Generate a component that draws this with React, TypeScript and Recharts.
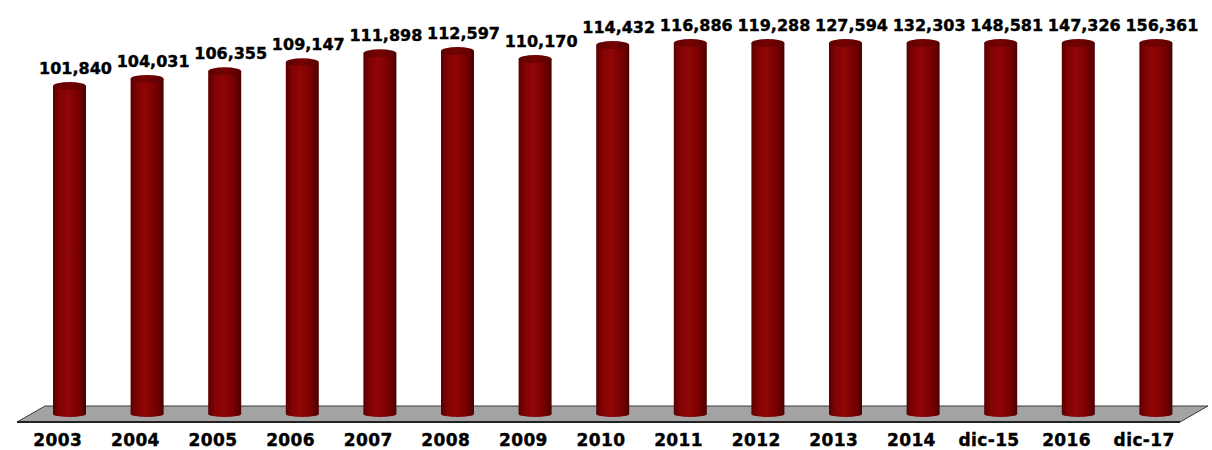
import { Bar, BarChart, LabelList, ReferenceArea, XAxis, YAxis } from "recharts";

const categories = [
  "2003", "2004", "2005", "2006", "2007", "2008", "2009", "2010",
  "2011", "2012", "2013", "2014", "dic-15", "2016", "dic-17",
];
const values = [
  101840, 104031, 106355, 109147, 111898, 112597, 110170, 114432,
  116886, 119288, 127594, 132303, 148581, 147326, 156361,
];

// the source chart stops its axis a little above 115,000 and cuts taller bars there
const AXIS_MAX = 115080;

const data = categories.map((name, i) => ({ name, value: values[i] }));

const FONT = "'DejaVu Sans', 'Liberation Sans', Arial, sans-serif";

function Cylinder(props: any) {
  const { x, y, width, height } = props;
  const rx = width / 2;
  const cx = x + rx;
  const base = y + height - 3;
  return (
    <g>
      <rect x={x} y={y} width={width} height={Math.max(base - y, 0)} fill="url(#cylBody)" />
      <ellipse cx={cx} cy={base} rx={rx} ry={3} fill="url(#cylBody)" />
      <ellipse cx={cx} cy={y} rx={rx} ry={4} fill="url(#cylCap)" />
    </g>
  );
}

function Floor(props: any) {
  const { x, width, y, height } = props;
  const zero = y + height;
  const left = x;
  const right = x + width;
  const pts = [
    [left + 14, zero - 11],
    [right + 13, zero - 11],
    [right - 15, zero + 5],
    [left - 14, zero + 5],
  ]
    .map((p) => p.join(","))
    .join(" ");
  return (
    <g>
      <polygon points={pts} fill="#a3a3a3" stroke="#3a3a3a" strokeWidth={1} />
      <line x1={left - 14} y1={zero + 5} x2={right - 15} y2={zero + 5} stroke="#222" strokeWidth={2} />
    </g>
  );
}

function ValueLabel(props: any) {
  const { x, y, width, value } = props;
  return (
    <text
      x={Number(x) + Number(width) / 2 + 6}
      y={Number(y) - 12}
      textAnchor="middle"
      fontFamily={FONT}
      fontWeight="bold"
      fontSize={16}
      fill="#000"
      stroke="#000"
      strokeWidth={0.4}
    >
      {Number(value).toLocaleString("en-US")}
    </text>
  );
}

function XTick(props: any) {
  const { x, y, payload } = props;
  return (
    <text
      x={x - 12}
      y={y + 21}
      textAnchor="middle"
      fontFamily={FONT}
      fontWeight="bold"
      fontSize={17}
      letterSpacing={0.4}
      fill="#000"
      stroke="#000"
      strokeWidth={0.4}
    >
      {payload.value}
    </text>
  );
}

export default function App() {
  return (
    <div style={{ position: "fixed", left: 0, top: 0, width: 1212, height: 450, background: "#fff" }}>
      <BarChart
        width={1212}
        height={450}
        data={data}
        margin={{ top: 43, right: 17, left: 31, bottom: 0 }}
        barSize={33}
      >
        <defs>
          <linearGradient id="cylBody" x1="0" y1="0" x2="1" y2="0">
            <stop offset="0%" stopColor="#5a0000" />
            <stop offset="22%" stopColor="#840303" />
            <stop offset="45%" stopColor="#900606" />
            <stop offset="75%" stopColor="#7a0000" />
            <stop offset="100%" stopColor="#4c0000" />
          </linearGradient>
          <linearGradient id="cylCap" x1="0" y1="0" x2="1" y2="0">
            <stop offset="0%" stopColor="#5e0000" />
            <stop offset="50%" stopColor="#760202" />
            <stop offset="100%" stopColor="#560000" />
          </linearGradient>
        </defs>
        <XAxis
          dataKey="name"
          height={33}
          axisLine={false}
          tickLine={false}
          interval={0}
          tick={<XTick />}
        />
        <YAxis hide domain={[0, AXIS_MAX]} />
        <ReferenceArea y1={0} y2={1000} shape={<Floor />} />
        <Bar
          dataKey={(d: any) => Math.min(d.value, AXIS_MAX)}
          shape={<Cylinder />}
          isAnimationActive={false}
        >
          <LabelList dataKey="value" content={<ValueLabel />} />
        </Bar>
      </BarChart>
    </div>
  );
}
